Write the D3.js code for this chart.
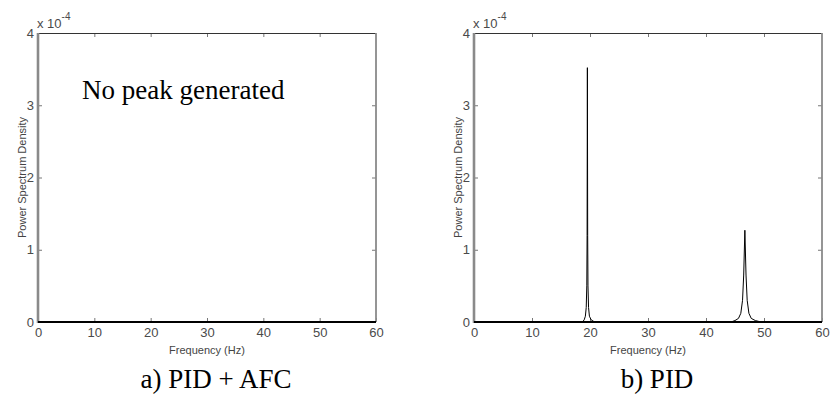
<!DOCTYPE html>
<html>
<head>
<meta charset="utf-8">
<script src="https://cdn.jsdelivr.net/npm/d3@7"></script>
<style>
  body { margin: 0; background: #fff; }
  svg { display: block; }
  .tick text { font-family: "Liberation Sans", Arial, sans-serif; font-size: 13px; fill: #4a4a4a; }
  .tick line { stroke: #777; }
  .sans { font-family: "Liberation Sans", Arial, sans-serif; }
  .serif { font-family: "Liberation Serif", "Times New Roman", serif; }
</style>
</head>
<body>
<svg id="chart" width="831" height="396"></svg>
<script>
// x axis (Hz) and y axis (x 1e-4) ticks
const xTicks = [0, 10, 20, 30, 40, 50, 60];
const yTicks = [0, 1, 2, 3, 4];

// panel a) PID + AFC : flat spectrum
const afcFreq = [0, 60];
const afcPsd = [0, 0];

// panel b) PID : two resonance peaks (x 1e-4)
const pidFreq = [0, 18.7, 19.0, 19.2, 19.35, 19.45, 19.5, 19.55, 19.6, 19.65, 19.75, 19.9, 20.2, 20.8,
                 44.3, 45.0, 45.6, 46.0, 46.3, 46.5, 46.7, 46.9, 47.1, 47.4, 47.8, 48.5, 49.5, 60];
const pidPsd = [0, 0, 0.03, 0.08, 0.2, 0.5, 1.2, 3.52, 1.2, 0.5, 0.2, 0.08, 0.03, 0,
                0, 0.02, 0.05, 0.12, 0.3, 0.65, 1.27, 0.65, 0.3, 0.12, 0.05, 0.02, 0, 0];

const captions = ["a) PID + AFC", "b) PID"];

const svg = d3.select("#chart");

function drawPanel(left, right, freq, psd, caption, note) {
    const top = 33, bottom = 322;

    let x = d3.scaleLinear().domain([0, 60]).range([left, right]);
    let y = d3.scaleLinear().domain([0, 4]).range([bottom, top]);

    let g = svg.append("g");

    // inward ticks all round
    g.append("g").attr("transform", `translate(0,${bottom})`)
        .call(d3.axisBottom(x).tickValues(xTicks).tickSizeInner(-4).tickSizeOuter(0).tickPadding(6))
        .call(a => a.select(".domain").remove());
    g.append("g").attr("transform", `translate(0,${top})`)
        .call(d3.axisTop(x).tickValues(xTicks.slice(1, -1)).tickSizeInner(-4).tickSizeOuter(0).tickFormat(""))
        .call(a => a.select(".domain").remove());
    g.append("g").attr("transform", `translate(${left},0)`)
        .call(d3.axisLeft(y).tickValues(yTicks).tickFormat(d3.format("d")).tickSizeInner(-4).tickSizeOuter(0).tickPadding(4))
        .call(a => a.select(".domain").remove());
    g.append("g").attr("transform", `translate(${right},0)`)
        .call(d3.axisRight(y).tickValues(yTicks.slice(1, -1)).tickSizeInner(-4).tickSizeOuter(0).tickFormat(""))
        .call(a => a.select(".domain").remove());

    // box
    g.append("line").attr("x1", left).attr("x2", right).attr("y1", top + 0.5).attr("y2", top + 0.5)
        .attr("stroke", "#333").attr("stroke-width", 1);
    g.append("line").attr("x1", right).attr("x2", right).attr("y1", top).attr("y2", bottom)
        .attr("stroke", "#8a8a8a").attr("stroke-width", 1.8);
    g.append("line").attr("x1", left).attr("x2", left).attr("y1", top).attr("y2", bottom + 1)
        .attr("stroke", "#8a8a8a").attr("stroke-width", 2.6);

    // data
    let pts = freq.map((f, i) => [f, psd[i]]);
    g.append("path").datum(pts)
        .attr("fill", "none").attr("stroke", "#000").attr("stroke-width", 1)
        .attr("d", d3.line().x(d => x(d[0])).y(d => y(d[1])));

    g.append("line").attr("x1", left).attr("x2", right).attr("y1", bottom).attr("y2", bottom)
        .attr("stroke", "#000").attr("stroke-width", 2.2);

    // exponent label
    let ex = g.append("text").attr("class", "sans").attr("x", left - 1).attr("y", 28)
        .attr("font-size", 13).attr("fill", "#4a4a4a");
    ex.append("tspan").text("x 10");
    ex.append("tspan").attr("dy", -8).attr("font-size", 10).text("-4");

    // axis labels
    g.append("text").attr("class", "sans").attr("x", (left + right) / 2).attr("y", 354).attr("text-anchor", "middle")
        .attr("font-size", 11).attr("fill", "#444")
        .text("Frequency (Hz)");
    g.append("text").attr("class", "sans").attr("transform", `translate(${left - 12},${(top + bottom) / 2}) rotate(-90)`)
        .attr("text-anchor", "middle")
        .attr("font-size", 11).attr("fill", "#444")
        .text("Power Spectrum Density");

    // caption
    g.append("text").attr("class", "serif").attr("x", (left + right) / 2 + 9).attr("y", 388).attr("text-anchor", "middle")
        .attr("font-size", 27).attr("fill", "#000")
        .text(caption);

    if (note) {
        g.append("text").attr("class", "serif").attr("x", left + 44).attr("y", 99)
            .attr("font-size", 27).attr("fill", "#000")
            .text(note);
    }
}

drawPanel(38, 376, afcFreq, afcPsd, captions[0], "No peak generated");
drawPanel(474, 822, pidFreq, pidPsd, captions[1], null);
</script>
</body>
</html>
